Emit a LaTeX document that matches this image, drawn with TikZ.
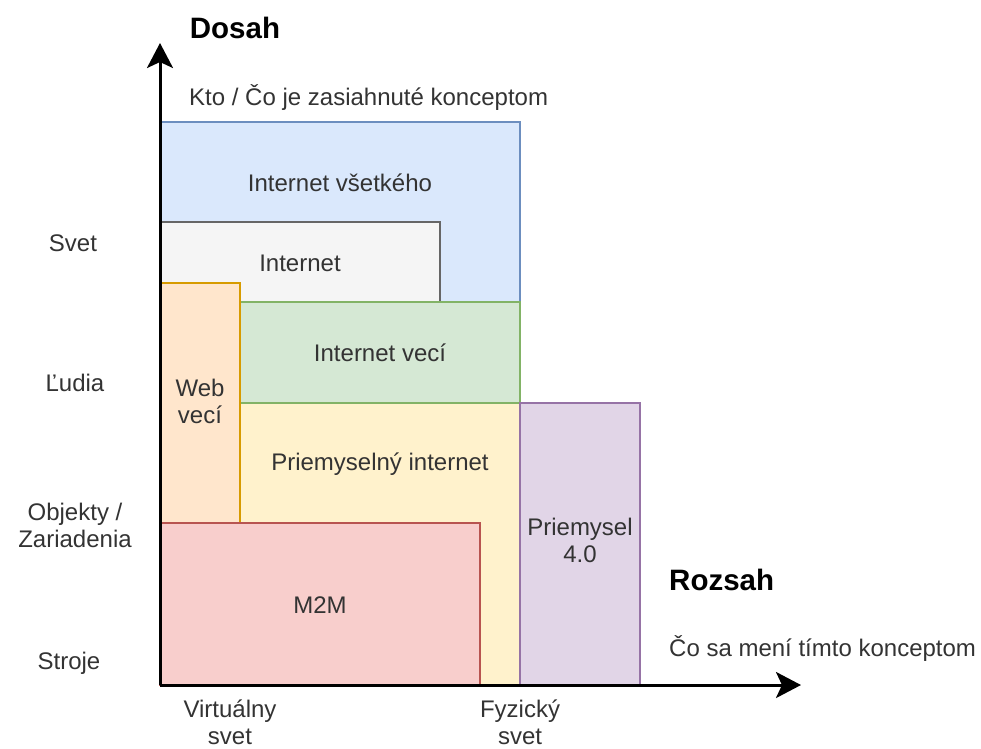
\documentclass[tikz,border=0pt]{standalone}
\usepackage{fontspec}
\setmainfont{Liberation Sans}
\usetikzlibrary{arrows.meta}

\definecolor{bluefill}{HTML}{DAE8FC}\definecolor{bluedraw}{HTML}{6C8EBF}
\definecolor{grayfill}{HTML}{F5F5F5}\definecolor{graydraw}{HTML}{666666}
\definecolor{orangefill}{HTML}{FFE6CC}\definecolor{orangedraw}{HTML}{D79B00}
\definecolor{greenfill}{HTML}{D5E8D4}\definecolor{greendraw}{HTML}{82B366}
\definecolor{yellowfill}{HTML}{FFF2CC}\definecolor{yellowdraw}{HTML}{D6B656}
\definecolor{redfill}{HTML}{F8CECC}\definecolor{reddraw}{HTML}{B85450}
\definecolor{purplefill}{HTML}{E1D5E7}\definecolor{purpledraw}{HTML}{9673A6}
\definecolor{txt}{HTML}{333333}

\tikzset{
  area/.style={draw, line width=1.5pt, inner sep=0pt, outer sep=0pt, anchor=north west},
  lbl/.style={text=txt, font=\fontsize{24}{27}\selectfont, align=center, inner sep=0pt},
  title/.style={text=black, font=\fontsize{29.5}{33}\selectfont\bfseries, inner sep=0pt},
  axis/.style={line width=3pt, -{Stealth[length=25pt, width=26pt, inset=6pt]}},
}

\begin{document}
\begin{tikzpicture}[x=1pt, y=-1pt]
\useasboundingbox (0,0) rectangle (981,748);

% concept areas, back to front
\node[area, fill=bluefill, draw=bluedraw, minimum width=360pt, minimum height=180pt] (iot-all) at (160,122) {};
\node[area, fill=grayfill, draw=graydraw, minimum width=280pt, minimum height=80pt] (inet) at (160,222) {};
\node[area, fill=yellowfill, draw=yellowdraw, minimum width=280pt, minimum height=282pt] (iiot) at (240,403) {};
\node[area, fill=greenfill, draw=greendraw, minimum width=280pt, minimum height=101pt] (iot) at (240,302) {};
\node[area, fill=orangefill, draw=orangedraw, minimum width=80pt, minimum height=240pt] (wot) at (160,283) {};
\node[area, fill=redfill, draw=reddraw, minimum width=320pt, minimum height=162pt] (m2m) at (160,523) {};
\node[area, fill=purplefill, draw=purpledraw, minimum width=120pt, minimum height=282pt] (i40) at (520,403) {};

% area labels
\node[lbl] (t-all) at (340,183) {Internet všetkého};
\node[lbl] (t-inet) at (300,263) {Internet};
\node[lbl] (t-iot) at (380,353) {Internet vecí};
\node[lbl] (t-wot) at (200,401) {Web\\vecí};
\node[lbl] (t-iiot) at (380,464) {Priemyselný internet};
\node[lbl] (t-m2m) at (320,605) {M2M};
\node[lbl] (t-i40) at (580,540) {Priemysel\\4.0};

% axes
\coordinate (o) at (160,685);
\coordinate (ytip) at (160,43);
\coordinate (xtip) at (801,685);
\draw[axis] (o) -- (ytip);
\draw[axis] (o) -- (xtip);

% axis titles
\node[title] (dosah) at (235,28) {Dosah};
\node[lbl, anchor=west] (dosah-sub) at (189,97) {Kto / Čo je zasiahnuté konceptom};
\node[title, anchor=west] (rozsah) at (669,580) {Rozsah};
\node[lbl, anchor=west] (rozsah-sub) at (669,648) {Čo sa mení tímto konceptom};

% vertical scale
\node[lbl] (svet) at (73,243) {Svet};
\node[lbl] (ludia) at (75,383) {Ľudia};
\node[lbl] (objekty) at (75,525) {Objekty /\\Zariadenia};
\node[lbl] (stroje) at (69,663) {Stroje};

% horizontal scale
\node[lbl] (virt) at (230,722) {Virtuálny\\svet};
\node[lbl] (fyz) at (520,722) {Fyzický\\svet};
\end{tikzpicture}
\end{document}
